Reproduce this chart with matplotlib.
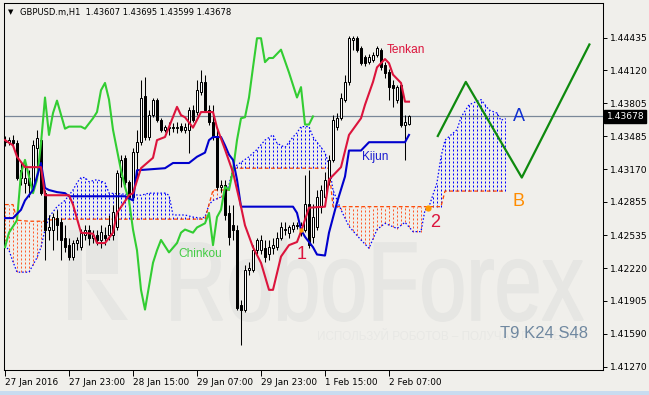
"""GBPUSD H1 Ichimoku chart (MT4 style) with forecast zigzag."""

import numpy as np
import matplotlib

matplotlib.use("Agg")
import matplotlib.pyplot as plt
from matplotlib.font_manager import FontProperties
from matplotlib.patches import PathPatch, Polygon, Rectangle
from matplotlib.textpath import TextPath
from matplotlib.transforms import Affine2D, blended_transform_factory

# ---- candles (bar 0 = 27 Jan 2016 00:00, H1) ----
opens = [1.4345, 1.4343, 1.4345, 1.4342, 1.4309, 1.4304, 1.4309, 1.4300, 1.4337, 1.4345,
         1.4294, 1.4259, 1.4259, 1.4270, 1.4266, 1.4251, 1.4244, 1.4233, 1.4246, 1.4242,
         1.4254, 1.4259, 1.4251, 1.4254, 1.4249, 1.4254, 1.4254, 1.4254, 1.4261, 1.4310,
         1.4328, 1.4305, 1.4290, 1.4334, 1.4343, 1.4387, 1.4348, 1.4369, 1.4384, 1.4364,
         1.4355, 1.4357, 1.4358, 1.4357, 1.4359, 1.4355, 1.4355, 1.4374, 1.4372, 1.4391,
         1.4401, 1.4374, 1.4362, 1.4348, 1.4300, 1.4302, 1.4275, 1.4263, 1.4259, 1.4186,
         1.4182, 1.4220, 1.4220, 1.4239, 1.4239, 1.4241, 1.4235, 1.4241, 1.4242, 1.4251,
         1.4259, 1.4256, 1.4260, 1.4262, 1.4256, 1.4259, 1.4284, 1.4252, 1.4261, 1.4281,
         1.4290, 1.4307, 1.4326, 1.4358, 1.4366, 1.4384, 1.4401, 1.4441, 1.4443, 1.4434,
         1.4425, 1.4420, 1.4422, 1.4427, 1.4432, 1.4417, 1.4411, 1.4398, 1.4384, 1.4398,
         1.4360, 1.43607]
highs = [1.4349, 1.4348, 1.4350, 1.4345, 1.4324, 1.4323, 1.4316, 1.4345, 1.4355, 1.4347,
         1.4297, 1.4273, 1.4275, 1.4278, 1.4270, 1.4263, 1.4251, 1.4249, 1.4252, 1.4260,
         1.4263, 1.4263, 1.4259, 1.4259, 1.4263, 1.4261, 1.4273, 1.4283, 1.4316, 1.4331,
         1.4331, 1.4307, 1.4337, 1.4355, 1.4403, 1.4406, 1.4374, 1.4386, 1.4386, 1.4366,
         1.4360, 1.4362, 1.4361, 1.4362, 1.4361, 1.4361, 1.4377, 1.4379, 1.4403, 1.4412,
         1.4408, 1.4379, 1.4379, 1.4355, 1.4307, 1.4307, 1.4283, 1.4283, 1.4263, 1.4191,
         1.4225, 1.4228, 1.4244, 1.4251, 1.4254, 1.4249, 1.4249, 1.4251, 1.4257, 1.4266,
         1.4266, 1.4263, 1.4266, 1.4266, 1.4266, 1.4311, 1.4316, 1.4284, 1.4297, 1.4302,
         1.4314, 1.4331, 1.4369, 1.4371, 1.4390, 1.4408, 1.4445, 1.4445, 1.4445, 1.4436,
         1.4427, 1.4428, 1.4430, 1.4436, 1.4434, 1.4420, 1.4413, 1.4403, 1.4398, 1.4400,
         1.4369, 1.43695]
lows = [1.4339, 1.4340, 1.4338, 1.4307, 1.4302, 1.4294, 1.4290, 1.4297, 1.4311, 1.4292,
        1.4230, 1.4249, 1.4239, 1.4249, 1.4230, 1.4237, 1.4230, 1.4230, 1.4239, 1.4239,
        1.4249, 1.4244, 1.4246, 1.4244, 1.4241, 1.4244, 1.4249, 1.4249, 1.4259, 1.4300,
        1.4302, 1.4281, 1.4287, 1.4310, 1.4340, 1.4345, 1.4345, 1.4367, 1.4362, 1.4353,
        1.4353, 1.4350, 1.4353, 1.4352, 1.4353, 1.4352, 1.4333, 1.4362, 1.4369, 1.4388,
        1.4372, 1.4360, 1.4345, 1.4297, 1.4295, 1.4268, 1.4244, 1.4249, 1.4182, 1.4148,
        1.4180, 1.4215, 1.4218, 1.4235, 1.4235, 1.4228, 1.4230, 1.4235, 1.4239, 1.4249,
        1.4254, 1.4251, 1.4257, 1.4260, 1.4253, 1.4257, 1.4241, 1.4246, 1.4259, 1.4275,
        1.4287, 1.4302, 1.4324, 1.4355, 1.4364, 1.4382, 1.4398, 1.4432, 1.4430, 1.4417,
        1.4416, 1.4418, 1.4420, 1.4425, 1.4412, 1.4405, 1.4384, 1.4377, 1.4381, 1.4358,
        1.4326, 1.43599]
closes = [1.4343, 1.4345, 1.4342, 1.4309, 1.4316, 1.4309, 1.4302, 1.4340, 1.4347, 1.4294,
          1.4259, 1.4261, 1.4271, 1.4263, 1.4249, 1.4242, 1.4233, 1.4246, 1.4249, 1.4256,
          1.4259, 1.4251, 1.4254, 1.4249, 1.4257, 1.4251, 1.4263, 1.4276, 1.4313, 1.4326,
          1.4305, 1.4290, 1.4334, 1.4343, 1.4386, 1.4348, 1.4369, 1.4384, 1.4364, 1.4355,
          1.4358, 1.4358, 1.4357, 1.4358, 1.4355, 1.4358, 1.4374, 1.4364, 1.4393, 1.4401,
          1.4374, 1.4362, 1.4348, 1.4300, 1.4302, 1.4273, 1.4252, 1.4259, 1.4184, 1.4182,
          1.4220, 1.4222, 1.4239, 1.4249, 1.4249, 1.4233, 1.4242, 1.4244, 1.4251, 1.4261,
          1.4260, 1.4261, 1.4263, 1.4263, 1.4263, 1.4284, 1.4244, 1.4271, 1.4290, 1.4297,
          1.4307, 1.4326, 1.4364, 1.4366, 1.4386, 1.4401, 1.4443, 1.4443, 1.4432, 1.4419,
          1.4419, 1.4425, 1.4427, 1.4434, 1.4415, 1.4410, 1.4396, 1.4395, 1.4396, 1.4360,
          1.4362, 1.43678]

# ---- Ichimoku lines (bar index, price) ----
tenkan_idx = [0, 2, 3, 5, 9, 10, 16, 17, 19, 22, 23, 25, 27, 28, 31, 32, 34, 37, 38, 40,
              43, 44, 45, 47, 49, 52, 53, 55, 57, 59, 60, 62, 64, 66, 67, 69, 71, 73, 74, 76,
              80, 81, 84, 86, 89, 90, 92, 93, 95, 96, 97, 99, 100, 101]
tenkan_val = [1.4345, 1.4340, 1.4329, 1.4319, 1.4319, 1.4292, 1.4292, 1.4283, 1.4256, 1.4255,
              1.4246, 1.4246, 1.4256, 1.4275, 1.4292, 1.4294, 1.4318, 1.4328, 1.4345, 1.4348,
              1.4377, 1.4369, 1.4367, 1.4357, 1.4372, 1.4372, 1.4357, 1.4336, 1.4314, 1.4281,
              1.4263, 1.4242, 1.4227, 1.4201, 1.4201, 1.4233, 1.4244, 1.4247, 1.4257, 1.4280,
              1.4281, 1.4307, 1.4319, 1.4350, 1.4366, 1.4379, 1.4401, 1.4415, 1.4423, 1.4419,
              1.4408, 1.4400, 1.4382, 1.4382]

kijun_idx = [0, 2, 4, 5, 7, 8, 9, 10, 11, 13, 15, 16, 30, 32, 33, 40, 42, 46, 48, 50,
             51, 52, 54, 55, 56, 57, 58, 59, 72, 73, 74, 75, 77, 78, 80, 81, 83, 85, 86, 89,
             91, 100, 101]
kijun_val = [1.4270, 1.4270, 1.4278, 1.4287, 1.4297, 1.4310, 1.4323, 1.4299, 1.4297, 1.4295,
             1.4294, 1.4291, 1.4291, 1.4287, 1.4316, 1.4318, 1.4323, 1.4323, 1.4329, 1.4333,
             1.4345, 1.4348, 1.4348, 1.4340, 1.4331, 1.4326, 1.4307, 1.4281, 1.4281, 1.4275,
             1.4259, 1.4252, 1.4242, 1.4235, 1.4234, 1.4256, 1.4285, 1.4310, 1.4335, 1.4335,
             1.4343, 1.4343, 1.4350]

chinkou_idx = [0, 1, 3, 4, 5, 6, 7, 8, 9, 10, 11, 12, 13, 15, 16, 19, 20, 22, 23, 24,
               25, 26, 27, 29, 30, 31, 32, 33, 34, 35, 37, 38, 39, 41, 43, 44, 45, 47, 48, 50,
               51, 52, 53, 54, 55, 56, 57, 58, 59, 60, 61, 62, 63, 64, 65, 66, 67, 69, 71, 73,
               74, 75, 76, 77]
chinkou_val = [1.4242, 1.4256, 1.4268, 1.4313, 1.4326, 1.4310, 1.4294, 1.4307, 1.4342, 1.4386,
               1.4350, 1.4371, 1.4383, 1.4356, 1.4358, 1.4358, 1.4356, 1.4366, 1.4372, 1.4393,
               1.4400, 1.4384, 1.4355, 1.4316, 1.4300, 1.4287, 1.4259, 1.4239, 1.4201, 1.4182,
               1.4227, 1.4239, 1.4249, 1.4237, 1.4246, 1.4256, 1.4259, 1.4256, 1.4261, 1.4265,
               1.4275, 1.4244, 1.4271, 1.4278, 1.4300, 1.4297, 1.4316, 1.4345, 1.4366, 1.4367,
               1.4386, 1.4415, 1.4443, 1.4443, 1.4420, 1.4424, 1.4424, 1.4432, 1.4410, 1.4386,
               1.4396, 1.4360, 1.4360, 1.43678]

cloud_idx = [0, 1, 2, 3, 6, 8, 9, 10, 11, 13, 14, 15, 17, 18, 19, 20, 21, 23, 25, 26,
             34, 36, 40, 41, 42, 45, 47, 49, 50, 51, 52, 55, 56, 57, 58, 61, 63, 65, 67, 68,
             70, 72, 73, 74, 76, 77, 80, 81, 82, 84, 86, 89, 91, 93, 95, 98, 100, 102, 104, 105,
             106, 108, 109, 110, 113, 114, 116, 119, 121, 123, 124, 125]
span_a = [1.4244, 1.4239, 1.4228, 1.4218, 1.4218, 1.4232, 1.4242, 1.4259, 1.4271, 1.4281,
          1.4284, 1.4287, 1.4297, 1.4304, 1.4309, 1.4309, 1.4305, 1.4307, 1.4304, 1.4294,
          1.4292, 1.4294, 1.4294, 1.4292, 1.4273, 1.4273, 1.4271, 1.4270, 1.4271, 1.4283,
          1.4287, 1.4292, 1.4302, 1.4318, 1.4321, 1.4329, 1.4336, 1.4345, 1.4350, 1.4342,
          1.4338, 1.4348, 1.4352, 1.4358, 1.4358, 1.4348, 1.4333, 1.4321, 1.4297, 1.4278,
          1.4262, 1.4249, 1.4241, 1.4259, 1.4265, 1.4260, 1.4266, 1.4257, 1.4257, 1.4278,
          1.4281, 1.4304, 1.4329, 1.4345, 1.4355, 1.4367, 1.4379, 1.4384, 1.4374, 1.4371,
          1.4364, 1.4366]
span_b = [1.4283, 1.4283, 1.4283, 1.4268, 1.4267, 1.4267, 1.4267, 1.4267, 1.4268, 1.4269,
          1.4269, 1.4269, 1.4269, 1.4269, 1.4269, 1.4269, 1.4269, 1.4269, 1.4269, 1.4269,
          1.4269, 1.4269, 1.4269, 1.4269, 1.4269, 1.4269, 1.4269, 1.4269, 1.4269, 1.4283,
          1.4297, 1.4297, 1.4297, 1.4318, 1.4318, 1.4318, 1.4318, 1.4318, 1.4318, 1.4318,
          1.4318, 1.4318, 1.4318, 1.4318, 1.4318, 1.4318, 1.4318, 1.4318, 1.4281, 1.4281,
          1.4281, 1.4281, 1.4281, 1.4281, 1.4281, 1.4281, 1.4281, 1.4281, 1.4281, 1.4281,
          1.4281, 1.4281, 1.4281, 1.4296, 1.4296, 1.4296, 1.4296, 1.4296, 1.4296, 1.4296,
          1.4296, 1.4296]

# forecast zigzag
zigzag_idx = [108.2, 115.2, 129.2, 146.1]
zigzag_val = [1.4349, 1.4401, 1.4309, 1.4437]

# signal points "1" (kijun cross) and "2" (kumo twist)
signal_idx = [74, 105.75]
signal_val = [1.4259, 1.4280]

last_price = 1.43678
y_ticks = [1.44435, 1.44120, 1.43805, 1.43485, 1.43170, 1.42855,
           1.42535, 1.42220, 1.41905, 1.41590, 1.41270]
x_ticks = [0, 16, 32, 48, 64, 80, 96]
x_labels = ["27 Jan 2016", "27 Jan 23:00", "28 Jan 15:00", "29 Jan 07:00",
            "29 Jan 23:00", "1 Feb 15:00", "2 Feb 07:00"]

BG = "#F0EFEB"
WM = "#E6E6E3"
W, H = 649, 395

fig = plt.figure(figsize=(W / 100, H / 100), dpi=100, facecolor=BG)
ax = fig.add_axes([4 / W, (H - 370) / H, 599 / W, 367 / H], facecolor=BG)
ax.set_xlim(-0.25, 149.5)
ax.set_ylim(1.41239, 1.44769)

# ---- watermark (display pixel coords) ----
fp = FontProperties(family="Liberation Sans")
tp = TextPath((0, 0), "RoboForex", size=1, prop=fp)
ext = tp.get_extents()
cap = TextPath((0, 0), "F", size=1, prop=fp).get_extents().height
wm_tr = Affine2D().translate(-ext.x0, 0).scale(411 / ext.width, 77 / cap).translate(172, H - 320)
ax.add_patch(PathPatch(tp, transform=wm_tr, fc=WM, ec=WM, lw=1.2, zorder=0))
logo = [
    [(68, 230), (82, 230), (82, 320), (68, 320)],
    [(86, 230), (118, 230), (118, 274), (86, 274)],
    [(86, 280), (100, 280), (128, 320), (112, 320)],
]
for pts in logo:
    ax.add_patch(Polygon([(x, H - y) for x, y in pts], closed=True, transform=Affine2D(),
                         fc=WM, ec="none", zorder=0))
ax.text(317, H - 340, "ИСПОЛЬЗУЙ РОБОТОВ – ПОЛУЧАЙ ПРИБЫЛЬ", transform=Affine2D(),
        fontsize=8.4, color="#E8E8E5", family="Liberation Sans", zorder=0)

# ---- kumo hatch: dotted vertical line on every bar ----
k = np.arange(0, cloud_idx[-1] + 1)
a = np.interp(k, cloud_idx, span_a)
b = np.interp(k, cloud_idx, span_b)
up = a >= b
ax.vlines(k[up], b[up], a[up], colors="#0000FF", linestyles=[(0, (2, 2))], lw=0.72, zorder=1)
ax.vlines(k[~up], a[~up], b[~up], colors="#FF5A2A", linestyles=[(0, (2, 2))], lw=0.72, zorder=1)
ax.plot(cloud_idx, span_a, color="#0000FF", ls=(0, (1.2, 1.6)), lw=0.9, zorder=2)
ax.plot(cloud_idx, span_b, color="#FF4500", ls=(0, (3, 2)), lw=0.9, zorder=2)

ax.axhline(last_price, color="#7A8899", lw=0.9, zorder=2)

# ---- candles ----
o = np.array(opens)
h = np.array(highs)
l = np.array(lows)
c = np.array(closes)
idx = np.arange(len(c))
bull = c >= o
ax.vlines(idx, l, h, color="black", lw=0.75, zorder=4)
ax.bar(idx[bull], c[bull] - o[bull], bottom=o[bull], width=0.5, facecolor="white",
       edgecolor="black", lw=0.72, zorder=5)
ax.bar(idx[~bull], o[~bull] - c[~bull], bottom=c[~bull], width=0.5, facecolor="black",
       edgecolor="black", lw=0.72, zorder=5)

# ---- ichimoku lines ----
ax.plot(chinkou_idx, chinkou_val, color="#32CD32", lw=1.5, zorder=6)
ax.plot(kijun_idx, kijun_val, color="#0000CD", lw=1.5, zorder=6)
ax.plot(tenkan_idx, tenkan_val, color="#DC143C", lw=1.5, zorder=6)
ax.plot(zigzag_idx, zigzag_val, color="#0E8A0E", lw=1.6, zorder=6)
ax.plot(signal_idx[0], signal_val[0], marker="s", ms=3, color="#FF9A00", mec="none", zorder=7)
ax.plot(signal_idx[1], signal_val[1], marker="o", ms=4.5, color="#FF9A00", mec="none", zorder=7)

lab = dict(family="Liberation Sans", va="center", ha="left", zorder=8)
ax.text(95.3, 1.4432, "Tenkan", color="#DC143C", fontsize=8.6, **lab)
ax.text(89.3, 1.4329, "Kijun", color="#1A1AD0", fontsize=8.6, **lab)
ax.text(43.3, 1.4235, "Chinkou", color="#44CC44", fontsize=8.6, **lab)
ax.text(127.0, 1.4368, "A", color="#1030D0", fontsize=13, **lab)
ax.text(127.0, 1.4286, "B", color="#FF8C00", fontsize=13, **lab)
ax.text(73.0, 1.4235, "1", color="#DC143C", fontsize=13, **lab)
ax.text(106.4, 1.4266, "2", color="#DC143C", fontsize=13, **lab)
ax.text(500, H - 333, "T9 K24 S48", transform=Affine2D(), fontsize=12,
        color="#7088A0", family="Liberation Sans", va="center", zorder=8)

# ---- axes ----
for sp in ax.spines.values():
    sp.set_color("black")
    sp.set_linewidth(0.75)
ax.yaxis.tick_right()
ax.set_yticks(y_ticks)
ax.set_yticklabels([f"{v:.5f}" for v in y_ticks])
ax.set_xticks(x_ticks)
ax.set_xticklabels(x_labels, ha="left")
ax.tick_params(axis="y", direction="out", length=3, width=0.7, pad=2, labelsize=6.6)
ax.tick_params(axis="x", direction="out", length=4, width=0.7, pad=1.5, labelsize=6.4)

bt = blended_transform_factory(ax.transAxes, ax.transData)
ax.text(1.0 + 3.5 / 599, last_price, "1.43678", transform=bt, color="white", fontsize=6.6,
        va="center", ha="left", clip_on=False, zorder=9,
        bbox=dict(boxstyle="square,pad=0.25", fc="black", ec="black"))

fig.text(8 / W, 1 - 12 / H, "▼", fontsize=5, va="center", color="black")
fig.text(20 / W, 1 - 12 / H, "GBPUSD.m,H1  1.43607 1.43695 1.43599 1.43678",
         fontsize=6.0, va="center", color="black")
fig.add_artist(Rectangle((0, 0), 1, 4 / H, transform=fig.transFigure, fc="#C8DCF0", ec="none"))

fig.savefig("out.png", dpi=100, facecolor=BG)
